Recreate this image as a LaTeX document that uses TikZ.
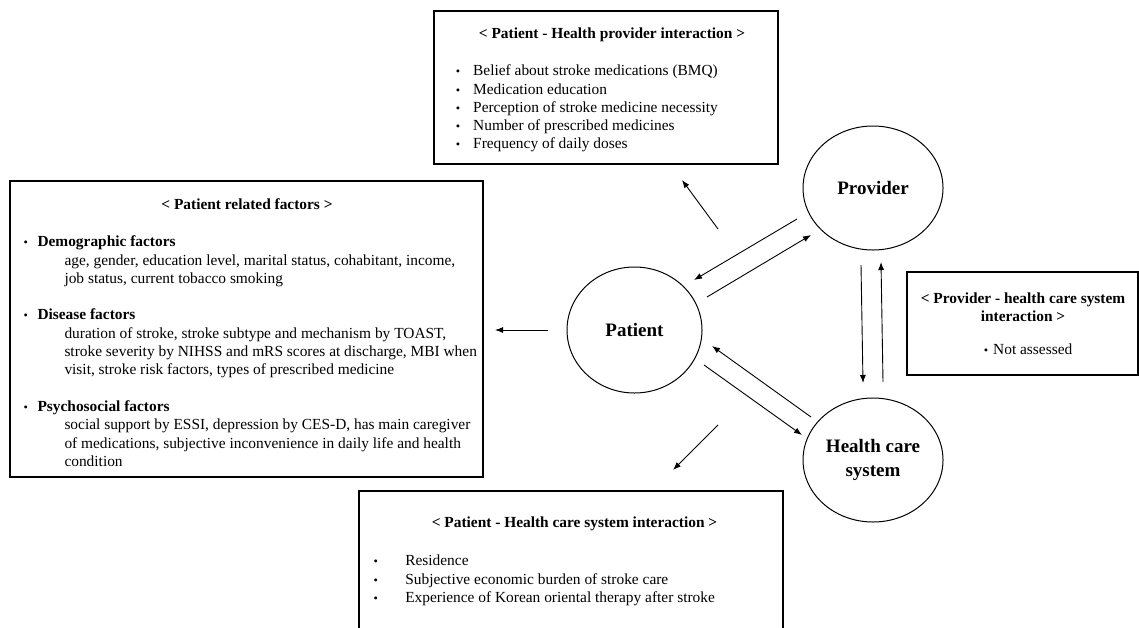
\documentclass[tikz,border=0pt]{standalone}
\usepackage{fontspec}
\setmainfont{Liberation Serif}
\usetikzlibrary{arrows.meta,shapes.geometric}

\newcommand{\bul}[1]{\makebox[#1][l]{\raisebox{0em}{\scalebox{.8}{\textbullet}}}}

\tikzset{
  box/.style={draw, line width=1.4pt, inner sep=0pt},
  actor/.style={draw, ellipse, line width=1pt, inner sep=0pt, align=center,
    minimum width=140pt, minimum height=124pt,
    font=\fontsize{19}{24}\selectfont\bfseries},
  txt/.style={inner sep=0pt, align=left, anchor=north west,
    font=\fontsize{15.4}{18.3}\selectfont},
  hdr/.style={inner sep=0pt, anchor=mid, align=center,
    font=\fontsize{15.4}{17.5}\selectfont\bfseries},
  arr/.style={-{Latex[length=8pt,width=6pt]}, line width=0.9pt}
}

\begin{document}
\begin{tikzpicture}[x=1pt,y=-1pt]
\useasboundingbox (0,0) rectangle (1139,627);
\clip (0,0) rectangle (1139,627);

% boxes
\node[box, minimum width=344pt, minimum height=153pt] (hpbox) at (606,87.5) {};
\node[box, minimum width=473pt, minimum height=296pt] (ptbox) at (246.5,329) {};
\node[box, minimum width=231pt, minimum height=103pt] (pcbox) at (1022.5,323.5) {};
\node[box, minimum width=424pt, minimum height=160pt] (hcbox) at (571,571) {};

% patient - health provider
\node[hdr] (hptitle) at (612,36.5) {< Patient - Health provider interaction >};
\node[txt] (hplist) at (455.6,62.7) {\strut\bul{17.4pt}Belief about stroke medications (BMQ)\\
\strut\bul{17.4pt}Medication education\\
\strut\bul{17.4pt}Perception of stroke medicine necessity\\
\strut\bul{17.4pt}Number of prescribed medicines\\
\strut\bul{17.4pt}Frequency of daily doses};

% patient related factors
\node[hdr] (pttitle) at (247,207) {< Patient related factors >};
\node[txt] (ptlist) at (23.3,233.7) {\strut\bul{14pt}\textbf{Demographic factors}\\
\strut\hspace*{41pt}age, gender, education level, marital status, cohabitant, income,\\
\strut\hspace*{41pt}job status, current tobacco smoking\\
\strut\\
\strut\bul{14pt}\textbf{Disease factors}\\
\strut\hspace*{41pt}duration of stroke, stroke subtype and mechanism by TOAST,\\
\strut\hspace*{41pt}stroke severity by NIHSS and mRS scores at discharge, MBI when\\
\strut\hspace*{41pt}visit, stroke risk factors, types of prescribed medicine\\
\strut\\
\strut\bul{14pt}\textbf{Psychosocial factors}\\
\strut\hspace*{41pt}social support by ESSI, depression by CES-D, has main caregiver\\
\strut\hspace*{41pt}of medications, subjective inconvenience in daily life and health\\
\strut\hspace*{41pt}condition};

% provider - health care system
\node[hdr] (pctitle) at (1023,319) {< Provider - health care system\\interaction >};
\node[txt, anchor=mid west] (pclist) at (983.6,352) {\bul{9.4pt}Not assessed};

% patient - health care system
\node[hdr] (hctitle) at (574.5,525) {< Patient - Health care system interaction >};
\node[txt] (hclist) at (373.3,552.7) {\strut\bul{31.8pt}Residence\\
\strut\bul{31.8pt}Subjective economic burden of stroke care\\
\strut\bul{31.8pt}Experience of Korean oriental therapy after stroke};

% actors
\node[actor] (provider) at (873,188) {Provider};
\node[actor, minimum width=135pt, minimum height=126pt] (patient) at (634.5,330) {Patient};
\node[actor] (system) at (873,460) {Health care\\system};

% arrow ends
\coordinate (a1) at (718,229); \coordinate (b1) at (682,180);
\coordinate (a2) at (797,219); \coordinate (b2) at (694,280);
\coordinate (a3) at (707,297); \coordinate (b3) at (811,235);
\coordinate (a4) at (861,265); \coordinate (b4) at (863,383);
\coordinate (a5) at (883,382); \coordinate (b5) at (881,262);
\coordinate (a6) at (811,417); \coordinate (b6) at (712,346);
\coordinate (a7) at (704,365); \coordinate (b7) at (802,435);
\coordinate (a8) at (718,425); \coordinate (b8) at (673,470);
\coordinate (a9) at (548,330); \coordinate (b9) at (495,330);

\draw[arr] (a1) -- (b1);
\draw[arr] (a2) -- (b2);
\draw[arr] (a3) -- (b3);
\draw[arr] (a4) -- (b4);
\draw[arr] (a5) -- (b5);
\draw[arr] (a6) -- (b6);
\draw[arr] (a7) -- (b7);
\draw[arr] (a8) -- (b8);
\draw[arr] (a9) -- (b9);
\end{tikzpicture}
\end{document}
